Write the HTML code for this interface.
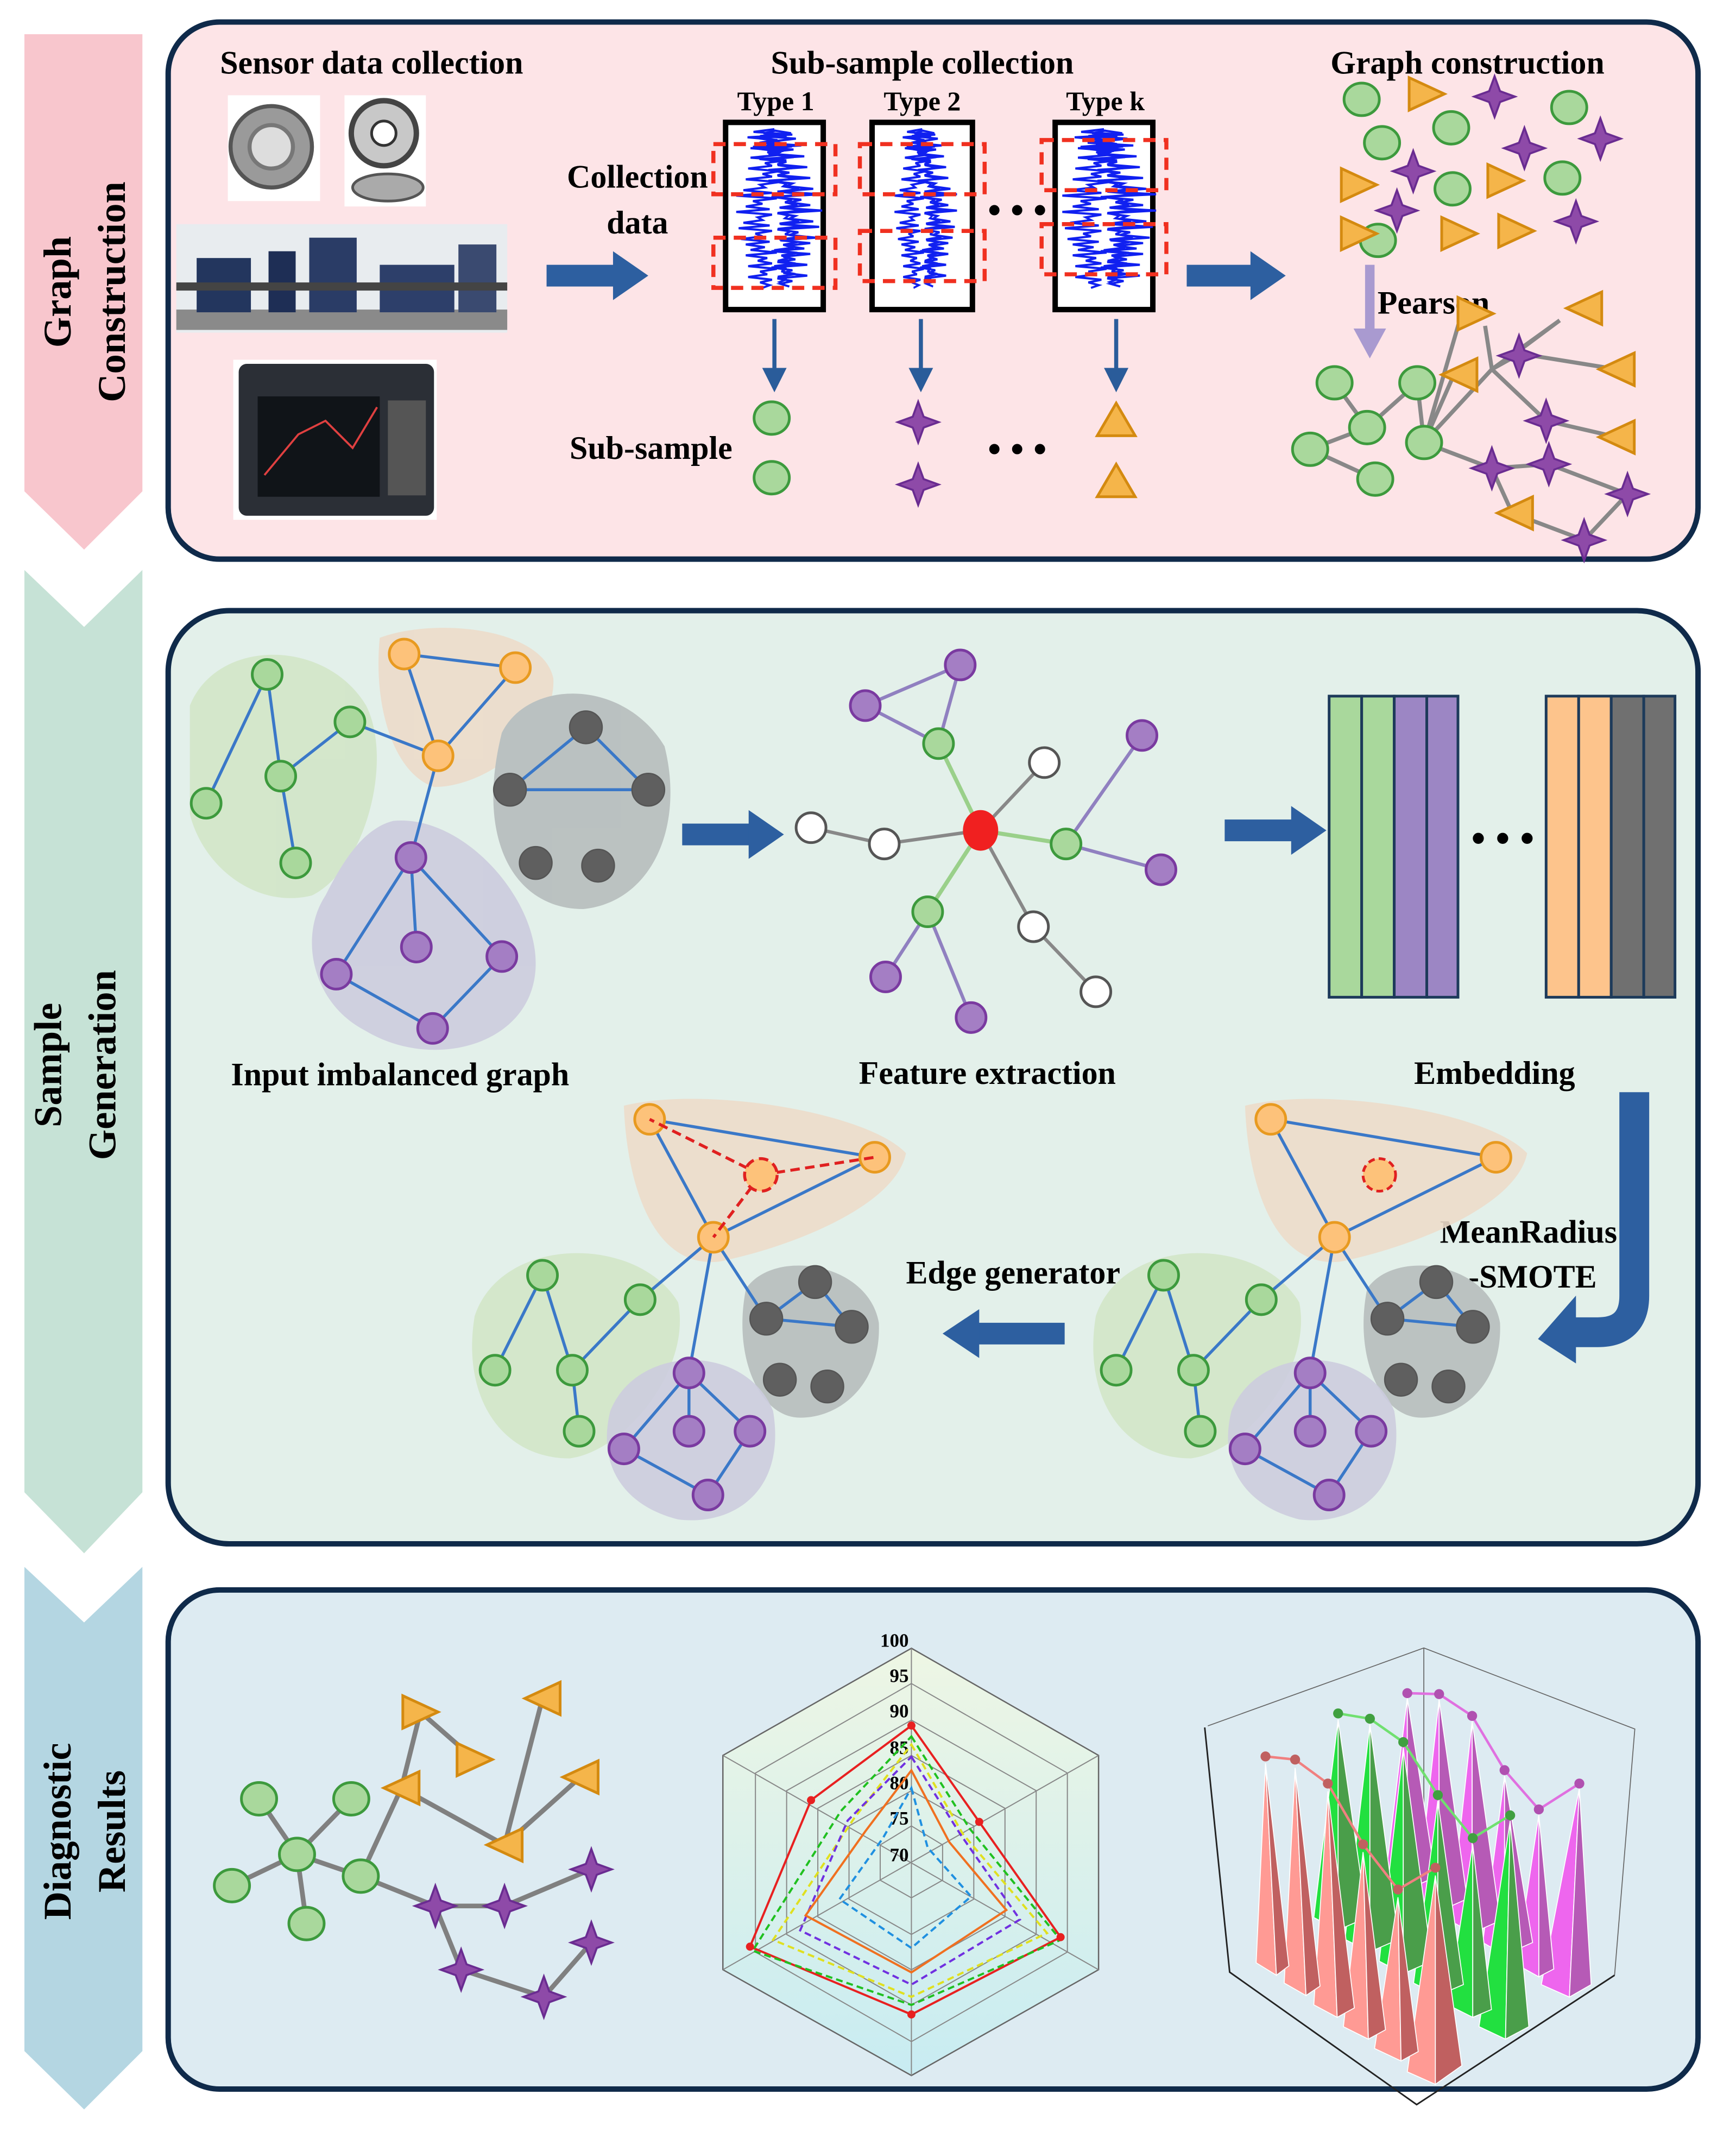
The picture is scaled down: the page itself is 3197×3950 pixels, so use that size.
<!DOCTYPE html>
<html><head><meta charset="utf-8"><style>
html,body{margin:0;padding:0;background:#fff}
svg{display:block}
text{font-family:"Liberation Serif",serif;font-weight:bold;fill:#000}
</style></head><body>
<svg width="3197" height="3950" viewBox="0 0 1280 1581" xmlns="http://www.w3.org/2000/svg">
<defs>
<path id="st" d="M0,-15 L4,-4 L15,0 L4,4 L0,15 L-4,4 L-15,0 L-4,-4Z" fill="#8e4aa8" stroke="#6a2c91" stroke-width="1.5"/>
<path id="tr" d="M-13,-12 L13,0 L-13,12Z" fill="#f5b54a" stroke="#d48a10" stroke-width="2"/>
<path id="trl" d="M13,-12 L-13,0 L13,12Z" fill="#f5b54a" stroke="#d48a10" stroke-width="2"/>
<path id="tru" d="M-14,11 L14,11 L0,-13Z" fill="#f5b54a" stroke="#d48a10" stroke-width="2"/>
<ellipse id="gc" rx="13" ry="12" fill="#a9d89c" stroke="#3d9a3d" stroke-width="2"/>
<circle id="gn" r="11" fill="#a9d89c" stroke="#3d9a3d" stroke-width="2"/>
<circle id="on" r="11" fill="#fdc27a" stroke="#e89a20" stroke-width="2"/>
<circle id="pn" r="11" fill="#a47ec4" stroke="#7a3aa0" stroke-width="2"/>
<circle id="kn" r="12" fill="#5f5f5f" stroke="#555" stroke-width="1"/>
<circle id="wn" r="11" fill="#fff" stroke="#555" stroke-width="2"/>
<path id="wave0" d="M0,0 l-14,2 l26,2 l-30,2 l20,2 l-12,2 l28,2 l-34,2 l22,2 l-10,2 l24,2 l-30,2 l18,2 l-6,2 l20,2 l-26,2 l14,2 l-8,2 l22,2 l-28,2 l16,2 l-4,2 l18,2 l-24,2 l30,2 l-34,2 l20,2 l-8,2 l14,2 l-20,2 l28,2 l-30,2 l12,2 l-4,2 l16,2 l-22,2 l26,2 l-28,2 l14,2 l-6,2 l18,2 l-24,2 l20,2 l-16,2 l12,2 l-22,2 l26,2 l-18,2 l8,2 l-12,2 l20,2 l-24,2 l14,2 l-6,2 l16,2 l-20,2 l10,2 l-8,2 l6,2" fill="none" stroke="#1020f0" stroke-width="1.6"/>
<g id="wave"><use href="#wave0"/><use href="#wave0" transform="scale(-0.8,1) translate(0,1)"/><use href="#wave0" transform="translate(1,1) scale(0.6,0.98)"/></g>
<marker id="ah" markerWidth="6" markerHeight="6" refX="3" refY="3" orient="auto"><path d="M0,0 L6,3 L0,6Z" fill="#2a5c9a"/></marker>
<linearGradient id="bg3" x1="0" y1="0" x2="0" y2="1"><stop offset="0" stop-color="#eef6e4"/><stop offset="1" stop-color="#c8ecf2"/></linearGradient>
</defs>

<polygon points="18,25 105,25 105,362 62,405 18,362" fill="#f8c6cd"/>
<polygon points="18,420 62,462 105,420 105,1100 62,1145 18,1100" fill="#c6e2d6"/>
<polygon points="18,1155 62,1196 105,1155 105,1512 62,1555 18,1512" fill="#b4d6e2"/>
<text transform="translate(52,215) rotate(-90)" text-anchor="middle" font-size="29">Graph</text>
<text transform="translate(92,215) rotate(-90)" text-anchor="middle" font-size="29">Construction</text>
<text transform="translate(45,785) rotate(-90)" text-anchor="middle" font-size="29">Sample</text>
<text transform="translate(85,785) rotate(-90)" text-anchor="middle" font-size="29">Generation</text>
<text transform="translate(52,1350) rotate(-90)" text-anchor="middle" font-size="29">Diagnostic</text>
<text transform="translate(92,1350) rotate(-90)" text-anchor="middle" font-size="29">Results</text>

<rect x="124" y="16" width="1128" height="396" rx="38" fill="#fde4e7" stroke="#0f2a4a" stroke-width="4"/>
<rect x="124" y="450" width="1128" height="688" rx="45" fill="#e3f0ea" stroke="#0f2a4a" stroke-width="4"/>
<rect x="124" y="1172" width="1128" height="368" rx="38" fill="#ddebf2" stroke="#0f2a4a" stroke-width="4"/>

<text x="274" y="54" text-anchor="middle" font-size="24">Sensor data collection</text>
<rect x="168" y="70" width="68" height="78" fill="#fff"/>
<circle cx="200" cy="108" r="30" fill="#9a9a9a" stroke="#555" stroke-width="3"/><circle cx="200" cy="108" r="16" fill="#ddd" stroke="#777" stroke-width="3"/>
<rect x="254" y="70" width="60" height="82" fill="#fff"/>
<circle cx="283" cy="98" r="24" fill="#c8c8c8" stroke="#444" stroke-width="4"/><circle cx="283" cy="98" r="9" fill="#fff" stroke="#333" stroke-width="2"/>
<ellipse cx="286" cy="138" rx="26" ry="10" fill="#aaa" stroke="#555" stroke-width="2"/>
<rect x="130" y="165" width="244" height="80" fill="#e8ecef"/>
<rect x="130" y="228" width="244" height="15" fill="#8a8a8a"/>
<rect x="145" y="190" width="40" height="40" fill="#23365e"/><rect x="198" y="185" width="20" height="45" fill="#1e2e55"/><rect x="228" y="175" width="35" height="55" fill="#2a3c66"/>
<rect x="280" y="195" width="55" height="35" fill="#2d3f6a"/><rect x="338" y="180" width="28" height="50" fill="#3a4a70"/><rect x="130" y="208" width="244" height="6" fill="#444"/>
<rect x="172" y="265" width="150" height="118" fill="#fff"/>
<rect x="176" y="268" width="144" height="112" rx="6" fill="#2b2f36"/>
<rect x="190" y="292" width="90" height="74" fill="#101418"/><polyline points="195,350 220,320 240,310 260,330 278,300" fill="none" stroke="#e04040" stroke-width="1.5"/>
<rect x="286" y="295" width="28" height="70" fill="#555"/>
<line x1="403" y1="203" x2="455" y2="203" stroke="#2d5fa0" stroke-width="16"/><polygon points="452,185 478,203 452,221" fill="#2d5fa0"/>
<text x="470" y="138" text-anchor="middle" font-size="24">Collection</text>
<text x="470" y="172" text-anchor="middle" font-size="24">data</text>
<text x="680" y="54" text-anchor="middle" font-size="24">Sub-sample collection</text>
<text x="572" y="81" text-anchor="middle" font-size="20">Type 1</text>
<text x="680" y="81" text-anchor="middle" font-size="20">Type 2</text>
<text x="815" y="81" text-anchor="middle" font-size="20">Type k</text>
<g fill="#fff" stroke="#000" stroke-width="4">
<rect x="535" y="90" width="72" height="138"/><rect x="643" y="90" width="74" height="138"/><rect x="778" y="90" width="72" height="138"/>
</g>
<use href="#wave" transform="translate(571,95) scale(1.1,1)"/>
<use href="#wave" transform="translate(680,95) scale(0.8,1)"/>
<use href="#wave" transform="translate(814,95) scale(1.2,1)"/>
<g fill="none" stroke="#f03020" stroke-width="3" stroke-dasharray="9,6">
<rect x="526" y="106" width="90" height="37"/><rect x="526" y="175" width="90" height="37"/>
<rect x="634" y="106" width="92" height="37"/><rect x="634" y="170" width="92" height="37"/>
<rect x="768" y="103" width="92" height="37"/><rect x="768" y="165" width="92" height="37"/>
</g>
<text x="750" y="164" text-anchor="middle" font-size="28">• • •</text>
<g stroke="#2a5c9a" stroke-width="3" marker-end="url(#ah)"><line x1="571" y1="235" x2="571" y2="280"/><line x1="679" y1="235" x2="679" y2="280"/><line x1="823" y1="235" x2="823" y2="280"/></g>
<text x="480" y="338" text-anchor="middle" font-size="24">Sub-sample</text>
<use href="#gc" x="569" y="308"/><use href="#gc" x="569" y="352"/>
<use href="#st" x="677" y="311"/><use href="#st" x="677" y="357"/>
<use href="#tru" x="823" y="310"/><use href="#tru" x="823" y="355"/>
<text x="750" y="340" text-anchor="middle" font-size="28">• • •</text>
<line x1="875" y1="203" x2="925" y2="203" stroke="#2d5fa0" stroke-width="16"/><polygon points="922,185 948,203 922,221" fill="#2d5fa0"/>
<text x="1082" y="54" text-anchor="middle" font-size="24">Graph construction</text>
<use href="#gc" x="1004" y="73"/><use href="#gc" x="1157" y="79"/><use href="#gc" x="1019" y="105"/><use href="#gc" x="1070" y="94"/><use href="#gc" x="1071" y="139"/><use href="#gc" x="1152" y="131"/><use href="#gc" x="1016" y="177"/>
<use href="#tr" x="1052" y="69"/><use href="#tr" x="1002" y="136"/><use href="#tr" x="1110" y="133"/><use href="#tr" x="1002" y="172"/><use href="#tr" x="1076" y="172"/><use href="#tr" x="1118" y="170"/>
<use href="#st" x="1102" y="71"/><use href="#st" x="1124" y="109"/><use href="#st" x="1180" y="102"/><use href="#st" x="1042" y="126"/><use href="#st" x="1030" y="155"/><use href="#st" x="1162" y="163"/>
<line x1="1010" y1="195" x2="1010" y2="245" stroke="#a99ad0" stroke-width="7"/><polygon points="998,242 1022,242 1010,264" fill="#a99ad0"/>
<text x="1057" y="231" text-anchor="middle" font-size="24">Pearson</text>
<g stroke="#888" stroke-width="3" fill="none">
<polyline points="984,282 1008,315 966,331 1014,353"/><polyline points="1008,315 1045,282 1050,326 1072,276"/>
<polyline points="1050,326 1100,272 1150,236 1115,262 1130,262 1192,272"/>
<polyline points="1100,272 1140,310 1192,322"/><polyline points="1100,272 1118,262"/>
<polyline points="1050,326 1100,345 1142,342 1200,364 1168,398"/><polyline points="1100,345 1115,378 1168,398"/>
<polyline points="1050,326 1078,230 1088,228"/><polyline points="1100,272 1095,240"/>
</g>
<use href="#gc" x="984" y="282"/><use href="#gc" x="1008" y="315"/><use href="#gc" x="966" y="331"/><use href="#gc" x="1014" y="353"/><use href="#gc" x="1045" y="282"/><use href="#gc" x="1050" y="326"/>
<use href="#trl" x="1076" y="276"/><use href="#tr" x="1088" y="231"/><use href="#trl" x="1168" y="227"/><use href="#trl" x="1192" y="272"/><use href="#trl" x="1192" y="322"/><use href="#trl" x="1117" y="378"/>
<use href="#st" x="1120" y="262"/><use href="#st" x="1140" y="310"/><use href="#st" x="1100" y="345"/><use href="#st" x="1142" y="342"/><use href="#st" x="1200" y="364"/><use href="#st" x="1168" y="398"/>

<g opacity="0.9">
<path d="M140,520 C160,470 240,470 270,520 C290,560 270,640 230,660 C190,670 150,640 140,600Z" fill="#d2e6c8"/>
<path d="M280,470 C320,455 400,462 408,500 C410,540 360,580 320,580 C290,570 275,520 280,470Z" fill="#ecdcca"/>
<path d="M370,540 C390,500 460,500 490,550 C505,610 480,665 430,670 C380,670 350,620 370,540Z" fill="#b6bcbd"/>
<path d="M290,605 C340,600 395,660 395,710 C395,770 320,790 270,760 C230,740 220,690 240,660 C255,630 270,610 290,605Z" fill="#ccccde"/>
</g>
<g stroke="#3a78c8" stroke-width="2.2">
<line x1="197" y1="497" x2="152" y2="592"/><line x1="197" y1="497" x2="207" y2="572"/><line x1="207" y1="572" x2="258" y2="532"/><line x1="207" y1="572" x2="218" y2="636"/><line x1="258" y1="532" x2="323" y2="557"/>
<line x1="298" y1="482" x2="380" y2="492"/><line x1="298" y1="482" x2="323" y2="557"/><line x1="380" y1="492" x2="323" y2="557"/><line x1="323" y1="557" x2="303" y2="632"/>
<line x1="432" y1="536" x2="376" y2="582"/><line x1="432" y1="536" x2="478" y2="582"/><line x1="376" y1="582" x2="478" y2="582"/>
<line x1="303" y1="632" x2="248" y2="718"/><line x1="303" y1="632" x2="307" y2="698"/><line x1="303" y1="632" x2="370" y2="705"/><line x1="248" y1="718" x2="319" y2="758"/><line x1="370" y1="705" x2="319" y2="758"/>
</g>
<use href="#gn" x="197" y="497"/><use href="#gn" x="258" y="532"/><use href="#gn" x="207" y="572"/><use href="#gn" x="152" y="592"/><use href="#gn" x="218" y="636"/>
<use href="#on" x="298" y="482"/><use href="#on" x="380" y="492"/><use href="#on" x="323" y="557"/>
<use href="#kn" x="432" y="536"/><use href="#kn" x="376" y="582"/><use href="#kn" x="478" y="582"/><use href="#kn" x="395" y="636"/><use href="#kn" x="441" y="638"/>
<use href="#pn" x="303" y="632"/><use href="#pn" x="248" y="718"/><use href="#pn" x="307" y="698"/><use href="#pn" x="370" y="705"/><use href="#pn" x="319" y="758"/>
<line x1="503" y1="615" x2="555" y2="615" stroke="#2d5fa0" stroke-width="16"/><polygon points="552,597 578,615 552,633" fill="#2d5fa0"/>
<g stroke="#888" stroke-width="2.5"><line x1="598" y1="610" x2="652" y2="622"/><line x1="652" y1="622" x2="723" y2="612"/><line x1="723" y1="612" x2="770" y2="562"/><line x1="723" y1="612" x2="762" y2="683"/><line x1="762" y1="683" x2="808" y2="731"/></g>
<g stroke="#9ad08a" stroke-width="3"><line x1="692" y1="548" x2="723" y2="612"/><line x1="786" y1="622" x2="723" y2="612"/><line x1="684" y1="672" x2="723" y2="612"/></g>
<g stroke="#9080c0" stroke-width="2.5"><line x1="638" y1="520" x2="692" y2="548"/><line x1="708" y1="490" x2="692" y2="548"/><line x1="638" y1="520" x2="708" y2="490"/><line x1="842" y1="542" x2="786" y2="622"/><line x1="856" y1="641" x2="786" y2="622"/><line x1="653" y1="720" x2="684" y2="672"/><line x1="716" y1="750" x2="684" y2="672"/></g>
<use href="#wn" x="598" y="610"/><use href="#wn" x="652" y="622"/><use href="#wn" x="770" y="562"/><use href="#wn" x="762" y="683"/><use href="#wn" x="808" y="731"/>
<use href="#gn" x="692" y="548"/><use href="#gn" x="786" y="622"/><use href="#gn" x="684" y="672"/>
<use href="#pn" x="638" y="520"/><use href="#pn" x="708" y="490"/><use href="#pn" x="842" y="542"/><use href="#pn" x="856" y="641"/><use href="#pn" x="653" y="720"/><use href="#pn" x="716" y="750"/>
<ellipse cx="723" cy="612" rx="13" ry="15" fill="#f02020"/>
<line x1="903" y1="612" x2="955" y2="612" stroke="#2d5fa0" stroke-width="16"/><polygon points="952,594 978,612 952,630" fill="#2d5fa0"/>
<g stroke="#1d3a5a" stroke-width="2">
<rect x="980" y="513" width="24" height="222" fill="#a9d89c"/><rect x="1004" y="513" width="24" height="222" fill="#a9d89c"/><rect x="1028" y="513" width="24" height="222" fill="#9c86c4"/><rect x="1052" y="513" width="23" height="222" fill="#9c86c4"/>
<rect x="1140" y="513" width="24" height="222" fill="#fdc48c"/><rect x="1164" y="513" width="24" height="222" fill="#fdc48c"/><rect x="1188" y="513" width="24" height="222" fill="#707070"/><rect x="1212" y="513" width="23" height="222" fill="#707070"/>
</g>
<text x="1108" y="628" text-anchor="middle" font-size="30">• • •</text>
<text x="295" y="800" text-anchor="middle" font-size="24">Input imbalanced graph</text>
<text x="728" y="799" text-anchor="middle" font-size="24">Feature extraction</text>
<text x="1102" y="799" text-anchor="middle" font-size="24">Embedding</text>
<path d="M1205,805 L1205,955 Q1205,982 1178,982 L1160,982" fill="none" stroke="#2d5fa0" stroke-width="22"/>
<polygon points="1162,955 1134,987 1162,1005" fill="#2d5fa0"/>
<text x="1127" y="916" text-anchor="middle" font-size="24">MeanRadius</text>
<text x="1130" y="949" text-anchor="middle" font-size="24">-SMOTE</text>
<line x1="720" y1="983" x2="785" y2="983" stroke="#2d5fa0" stroke-width="16"/><polygon points="722,965 695,983 722,1001" fill="#2d5fa0"/>
<text x="747" y="946" text-anchor="middle" font-size="24">Edge generator</text>
<g id="g2">
<path d="M460,815 C520,800 640,820 668,850 C660,890 580,920 530,930 C480,935 462,870 460,815Z" fill="#ecdcca" opacity="0.9"/>
<path d="M350,970 C370,910 470,910 500,960 C510,1010 460,1070 420,1075 C370,1075 340,1030 350,970Z" fill="#d2e6c8" opacity="0.9"/>
<path d="M550,950 C570,920 640,930 648,975 C650,1020 620,1045 590,1045 C560,1045 540,1000 550,950Z" fill="#b6bcbd" opacity="0.9"/>
<path d="M450,1040 C470,990 550,990 570,1040 C580,1100 540,1125 500,1120 C460,1110 440,1080 450,1040Z" fill="#ccccde" opacity="0.9"/>
<g stroke="#3a78c8" stroke-width="2.2">
<line x1="479" y1="825" x2="645" y2="853"/><line x1="479" y1="825" x2="526" y2="912"/><line x1="645" y1="853" x2="526" y2="912"/>
<line x1="526" y1="912" x2="472" y2="958"/><line x1="526" y1="912" x2="508" y2="1012"/><line x1="526" y1="912" x2="565" y2="972"/>
<line x1="400" y1="940" x2="422" y2="1010"/><line x1="400" y1="940" x2="365" y2="1010"/><line x1="472" y1="958" x2="422" y2="1010"/><line x1="422" y1="1010" x2="427" y2="1055"/>
<line x1="601" y1="945" x2="565" y2="972"/><line x1="601" y1="945" x2="628" y2="978"/><line x1="565" y1="972" x2="628" y2="978"/>
<line x1="508" y1="1012" x2="460" y2="1068"/><line x1="508" y1="1012" x2="508" y2="1055"/><line x1="508" y1="1012" x2="553" y2="1055"/><line x1="460" y1="1068" x2="522" y2="1102"/><line x1="553" y1="1055" x2="522" y2="1102"/>
</g>
<use href="#on" x="479" y="825"/><use href="#on" x="645" y="853"/><use href="#on" x="526" y="912"/>
<use href="#gn" x="400" y="940"/><use href="#gn" x="472" y="958"/><use href="#gn" x="422" y="1010"/><use href="#gn" x="365" y="1010"/><use href="#gn" x="427" y="1055"/>
<use href="#kn" x="601" y="945"/><use href="#kn" x="565" y="972"/><use href="#kn" x="628" y="978"/><use href="#kn" x="575" y="1017"/><use href="#kn" x="610" y="1022"/>
<use href="#pn" x="508" y="1012"/><use href="#pn" x="460" y="1068"/><use href="#pn" x="508" y="1055"/><use href="#pn" x="553" y="1055"/><use href="#pn" x="522" y="1102"/>
</g>
<g stroke="#e02020" stroke-width="2.2" stroke-dasharray="7,4" fill="none">
<line x1="561" y1="866" x2="479" y2="825"/><line x1="561" y1="866" x2="645" y2="853"/><line x1="561" y1="866" x2="526" y2="912"/>
<circle cx="561" cy="866" r="12" fill="#fdc27a"/>
</g>
<use href="#g2" transform="translate(458,0)"/>
<circle cx="1017" cy="866" r="12" fill="#fdc27a" stroke="#e02020" stroke-width="2" stroke-dasharray="5,3"/>

<g stroke="#808080" stroke-width="3.5" fill="none">
<line x1="191" y1="1326" x2="219" y2="1367"/><line x1="259" y1="1326" x2="219" y2="1367"/><line x1="219" y1="1367" x2="171" y2="1390"/><line x1="219" y1="1367" x2="226" y2="1418"/><line x1="219" y1="1367" x2="266" y2="1383"/>
<polyline points="266,1383 296,1318 310,1262 350,1297"/><polyline points="266,1383 321,1405 372,1405 436,1378"/>
<polyline points="296,1318 372,1360 428,1310"/><polyline points="372,1360 400,1252"/>
<polyline points="321,1405 340,1452 401,1472 436,1432"/>
</g>
<use href="#gc" x="191" y="1326"/><use href="#gc" x="259" y="1326"/><use href="#gc" x="219" y="1367"/><use href="#gc" x="171" y="1390"/><use href="#gc" x="226" y="1418"/><use href="#gc" x="266" y="1383"/>
<use href="#tr" x="310" y="1262"/><use href="#tr" x="400" y="1252" transform="rotate(180 400 1252)"/><use href="#tr" x="350" y="1297"/><use href="#trl" x="428" y="1310"/><use href="#tr" x="296" y="1318" transform="rotate(180 296 1318)"/><use href="#trl" x="372" y="1360"/>
<use href="#st" x="321" y="1405"/><use href="#st" x="372" y="1405"/><use href="#st" x="436" y="1378"/><use href="#st" x="436" y="1432"/><use href="#st" x="340" y="1452"/><use href="#st" x="401" y="1472"/>

<polygon points="672,1215 810,1294 810,1452 672,1530 533,1452 533,1294" fill="url(#bg3)" stroke="#666" stroke-width="1"/>
<g fill="none" stroke="#888" stroke-width="0.8">
<polygon points="672,1241 787,1307 787,1439 672,1505 557,1439 557,1307"/>
<polygon points="672,1268 764,1320 764,1426 672,1478 580,1426 580,1320"/>
<polygon points="672,1294 741,1333 741,1413 672,1452 603,1413 603,1333"/>
<polygon points="672,1320 718,1346 718,1400 672,1426 626,1400 626,1346"/>
<polygon points="672,1346 695,1360 695,1386 672,1399 649,1386 649,1360"/>
<line x1="672" y1="1215" x2="672" y2="1530"/><line x1="533" y1="1294" x2="810" y2="1452"/><line x1="810" y1="1294" x2="533" y2="1452"/>
</g>
<g font-size="14" text-anchor="end"><text x="670" y="1214">100</text><text x="670" y="1240">95</text><text x="670" y="1266">90</text><text x="670" y="1293">85</text><text x="670" y="1319">80</text><text x="670" y="1345">75</text><text x="670" y="1372">70</text></g>
<g fill="none" stroke-width="1.6">
<polygon points="672,1272 722,1343 782,1428 672,1485 553,1435 598,1327" stroke="#e82020"/>
<polygon points="672,1280 715,1348 782,1430 672,1478 555,1438 620,1335" stroke="#20c020" stroke-dasharray="5,3"/>
<polygon points="672,1286 710,1352 772,1425 672,1472 570,1430 630,1340" stroke="#e0e020" stroke-dasharray="5,3"/>
<polygon points="672,1295 708,1352 752,1415 672,1463 590,1423 625,1342" stroke="#7030e0" stroke-dasharray="5,3"/>
<polygon points="672,1305 700,1358 742,1408 672,1454 594,1412 638,1350" stroke="#f07020"/>
<polygon points="672,1318 684,1362 716,1398 672,1436 619,1400 651,1355" stroke="#2090e0" stroke-dasharray="5,3"/>
</g>
<g fill="#e82020"><circle cx="672" cy="1272" r="3"/><circle cx="722" cy="1343" r="3"/><circle cx="782" cy="1428" r="3"/><circle cx="672" cy="1485" r="3"/><circle cx="553" cy="1435" r="3"/><circle cx="598" cy="1327" r="3"/></g>

<g transform="translate(860.7,1201) scale(0.2298)">
<g stroke="#666" stroke-width="3" fill="none">
<polyline points="130,310 823,60 1500,320 1435,1110"/><line x1="823" y1="60" x2="823" y2="700"/>
<polyline points="120,315 200,1100 800,1525 1435,1110" stroke="#222" stroke-width="5"/>
</g>
<g stroke="#fff" stroke-width="3">
<g fill="#ee66ee"><polygon points="770,220 700,795 770,835"/><polygon points="872,225 802,865 872,905"/><polygon points="978,295 908,935 978,975"/><polygon points="1082,470 1012,1005 1082,1045"/><polygon points="1192,595 1120,1075 1192,1115"/><polygon points="1322,510 1200,1140 1290,1180"/></g>
<g fill="#b65ab6"><polygon points="770,220 770,835 860,795"/><polygon points="872,225 872,905 962,865"/><polygon points="978,295 978,975 1068,935"/><polygon points="1082,470 1082,1045 1172,1005"/><polygon points="1192,595 1192,1115 1240,1090"/><polygon points="1322,510 1290,1180 1360,1140"/></g>
<g fill="#22e040"><polygon points="548,290 470,925 548,965"/><polygon points="650,305 570,995 650,1035"/><polygon points="757,380 680,1065 757,1105"/><polygon points="868,550 790,1135 868,1175"/><polygon points="980,690 900,1205 980,1245"/><polygon points="1100,615 1000,1275 1085,1315"/></g>
<g fill="#4a9e4a"><polygon points="548,290 548,965 640,925"/><polygon points="650,305 650,1035 742,995"/><polygon points="757,380 757,1105 849,1065"/><polygon points="868,550 868,1175 950,1140"/><polygon points="980,690 980,1245 1040,1220"/><polygon points="1100,615 1085,1315 1160,1275"/></g>
<g fill="#ff9a94"><polygon points="315,430 285,1070 350,1110"/><polygon points="410,445 375,1135 445,1175"/><polygon points="515,520 470,1205 545,1245"/><polygon points="628,715 565,1275 645,1315"/><polygon points="740,860 665,1345 750,1385"/><polygon points="860,790 770,1420 860,1460"/></g>
<g fill="#c06060"><polygon points="315,430 350,1110 390,1080"/><polygon points="410,445 445,1175 490,1145"/><polygon points="515,520 545,1245 600,1215"/><polygon points="628,715 645,1315 700,1285"/><polygon points="740,860 750,1385 805,1355"/><polygon points="860,790 860,1460 945,1400"/></g>
</g>
<polyline points="770,205 872,208 978,278 1082,452 1192,578 1322,495" fill="none" stroke="#e070e0" stroke-width="8"/>
<polyline points="548,270 650,287 757,362 868,532 980,670 1100,597" fill="none" stroke="#70e070" stroke-width="8"/>
<polyline points="315,408 410,418 515,495 628,690 740,835 860,765" fill="none" stroke="#f08080" stroke-width="8"/>
<g fill="#b050b0"><circle cx="770" cy="205" r="16"/><circle cx="872" cy="208" r="16"/><circle cx="978" cy="278" r="16"/><circle cx="1082" cy="452" r="16"/><circle cx="1192" cy="578" r="16"/><circle cx="1322" cy="495" r="16"/></g>
<g fill="#40a040"><circle cx="548" cy="270" r="16"/><circle cx="650" cy="287" r="16"/><circle cx="757" cy="362" r="16"/><circle cx="868" cy="532" r="16"/><circle cx="980" cy="670" r="16"/><circle cx="1100" cy="597" r="16"/></g>
<g fill="#c06060"><circle cx="315" cy="408" r="16"/><circle cx="410" cy="418" r="16"/><circle cx="515" cy="495" r="16"/><circle cx="628" cy="690" r="16"/><circle cx="740" cy="835" r="16"/><circle cx="860" cy="765" r="16"/></g>
</g>
</svg>
</body></html>
